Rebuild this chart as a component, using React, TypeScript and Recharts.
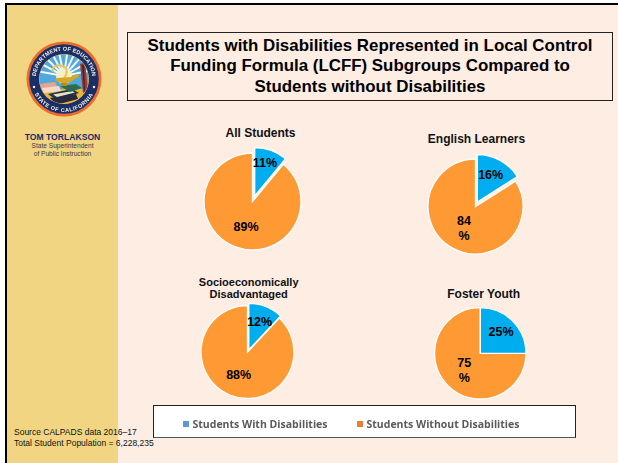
import { PieChart, Pie, Cell } from "recharts";

const subgroups = ["All Students", "English Learners", "Socioeconomically Disadvantaged", "Foster Youth"];
const withDisabilities = [11, 16, 12, 25];
const withoutDisabilities = [89, 84, 88, 75];
const legendLabels = ["Students With Disabilities", "Students Without Disabilities"];

const BLUE = "#00AEEF";
const ORANGE = "#FF9933";
const ARIAL = "'Liberation Sans', Arial, sans-serif";

// where each pie sits on the slide, and how far its blue wedge is pulled out
const pieLayout = [
  { cx: 252.5, cy: 201.5, r: 48.5, dx: 2.2, dy: -5.5 },
  { cx: 475.5, cy: 206.5, r: 47.5, dx: 1.8, dy: -4.5 },
  { cx: 247.5, cy: 352, r: 46.5, dx: 1.3, dy: -2.2 },
  { cx: 480.3, cy: 353.3, r: 45.7, dx: 0, dy: 0 },
];

// label centres: [with disabilities, without disabilities]
const labelLayout = [
  [{ x: 265, y: 163 }, { x: 246, y: 227 }],
  [{ x: 490.7, y: 175 }, { x: 464, y: 228 }],
  [{ x: 259.7, y: 322 }, { x: 238.7, y: 375 }],
  [{ x: 501, y: 332 }, { x: 464.3, y: 370 }],
];
// these labels ran out of room and break before the percent sign
const wrappedLabels = ["1-1", "3-1"];

const titleLayout = [
  { x: 260.5, y: [137] },
  { x: 476.5, y: [142.7] },
  { x: 248.7, y: [286, 298] },
  { x: 483.7, y: [298] },
];
const titleLines = [["All Students"], ["English Learners"], ["Socioeconomically", "Disadvantaged"], ["Foster Youth"]];

function renderLabel(group: number, slice: number) {
  return (props: any) => {
    if (props.index !== slice) return null;
    const pos = labelLayout[group][slice];
    const value = slice === 0 ? withDisabilities[group] : withoutDisabilities[group];
    const common = {
      fontFamily: ARIAL,
      fontWeight: 700,
      fontSize: 12.5,
      fill: "#000",
      textAnchor: "middle" as const,
      dominantBaseline: "central" as const,
    };
    if (wrappedLabels.includes(`${group}-${slice}`)) {
      return (
        <text {...common}>
          <tspan x={pos.x} y={pos.y - 7.5}>{value}</tspan>
          <tspan x={pos.x} y={pos.y + 7.5}>%</tspan>
        </text>
      );
    }
    return <text {...common} x={pos.x} y={pos.y}>{value}%</text>;
  };
}

function buildPies() {
  return subgroups.flatMap((name, group) => {
    const data = [
      { name: legendLabels[0], value: withDisabilities[group] },
      { name: legendLabels[1], value: withoutDisabilities[group] },
    ];
    const { cx, cy, r, dx, dy } = pieLayout[group];
    // same slices twice: the orange one in place, the blue one shifted out
    return [1, 0].map((slice) => (
      <Pie
        key={`${name}-${slice}`}
        data={data}
        dataKey="value"
        cx={slice === 0 ? cx + dx : cx}
        cy={slice === 0 ? cy + dy : cy}
        outerRadius={r}
        startAngle={90}
        endAngle={-270}
        labelLine={false}
        label={renderLabel(group, slice)}
        isAnimationActive={false}
      >
        {data.map((_, i) => (
          <Cell
            key={i}
            fill={i !== slice ? "none" : slice === 0 ? BLUE : ORANGE}
            stroke={i !== slice ? "none" : "#fff"}
            strokeWidth={1.3}
          />
        ))}
      </Pie>
    ));
  });
}

function Seal() {
  const rays = [-80, -62, -45, -28, -12, 8, 25, 42, 60, 78];
  return (
    <svg width={80} height={80} viewBox="-40 -40 80 80" style={{ position: "absolute", left: 23.5, top: 39, filter: "blur(0.35px)" }}>
      <defs>
        <clipPath id="sealInner"><circle r={24.5} /></clipPath>
        <path id="sealTop" d="M -27.7 5 A 28.2 28.2 0 1 1 27.7 5" />
        <path id="sealBottom" d="M -33 0 A 33 33 0 0 0 33 0" />
      </defs>
      <circle r={37.5} fill="#EC6B2C" />
      <circle r={34.8} fill="#1B2F66" />
      <circle r={25} fill="#F2C14A" />
      <g clipPath="url(#sealInner)">
        <rect x={-26} y={-26} width={52} height={36} fill="#4FA9DC" />
        {rays.map((a) => (
          <line key={a} x1={0} y1={-3} x2={30 * Math.sin((a * Math.PI) / 180)} y2={-3 - 30 * Math.cos((a * Math.PI) / 180)} stroke="#F4FAFC" strokeWidth={2} />
        ))}
        <circle cy={-3} r={8} fill="#F6F1C8" />
        <rect x={-26} y={10} width={52} height={16} fill="#E8B63A" />
        <path d="M -25 5 L -9 3 L -5 11 L -22 13 Z" fill="#E7A58F" />
        <path d="M -22 9 L -5 7 L -3 12 L -21 14 Z" fill="#F3D9C7" />
        <path d="M -16 15 L 8 10 L 15 14 L -8 21 Z" fill="#1C3450" />
        <path d="M -14 19 L 12 15 L 14 20 L -8 26 Z" fill="#2A2A3E" />
        <path d="M -11 15.5 L 8 12 L 11 13.5 L -7 18 Z" fill="#E9E2C4" />
        <path d="M -4 7 L 12 5 L 18 9 L 6 13 Z" fill="#2F6B4F" />
        <path d="M 16 -15 L 21 -17 L 24 12 L 19 14 Z" fill="#A5372F" />
        <path d="M 18 -14 L 20 -15 L 21 12 L 20 12 Z" fill="#3B2A3A" />
        <path d="M -10 -7 C -15 -11 -7 -15 -2 -13 C 6 -11 2 -3 -1 1" stroke="#EBC75B" strokeWidth={2} fill="none" />
        <path d="M -9 1 C -4 5 4 5 8 2 C 12 -2 14 0 15 -3 C 14 -6 9 -4 7 -2 L -7 -1 Z" fill="#D8A626" />
        <rect x={-3} y={4} width={6} height={3} fill="#B98A1D" />
      </g>
      <text fontFamily={ARIAL} fontWeight={700} fontSize={5.5} fill="#F6F3E6" letterSpacing={0.1}>
        <textPath href="#sealTop" startOffset="50%" textAnchor="middle">DEPARTMENT OF EDUCATION</textPath>
      </text>
      <text fontFamily={ARIAL} fontWeight={700} fontSize={5.5} fill="#F6F3E6" letterSpacing={0.55}>
        <textPath href="#sealBottom" startOffset="50%" textAnchor="middle">STATE OF CALIFORNIA</textPath>
      </text>
      <circle cx={-30} cy={8} r={1.2} fill="#F6F3E6" />
      <circle cx={30} cy={8} r={1.2} fill="#F6F3E6" />
    </svg>
  );
}

const abs = (left: number, top: number, extra: React.CSSProperties = {}): React.CSSProperties => ({
  position: "absolute",
  left,
  top,
  ...extra,
});

const legendText: React.CSSProperties = {
  color: "#5A5A5A",
  fontFamily: "'Open Sans', sans-serif",
  fontWeight: 700,
  fontSize: 10.5,
  lineHeight: "14px",
  whiteSpace: "nowrap",
  filter: "blur(0.4px)",
};

export default function App() {
  return (
    <div style={{ position: "fixed", left: 0, top: 0, width: 618, height: 463, background: "#fff", overflow: "hidden", fontFamily: ARIAL }}>
      <div style={abs(5, 3, { width: 613, height: 460, background: "#000" })} />
      <div style={abs(7, 5, { width: 611, height: 458, background: "#FDEDE3" })} />
      <div style={abs(7, 5, { width: 111, height: 458, background: "#F1D582" })} />

      <Seal />
      <div style={abs(7, 132, { width: 111, textAlign: "center", color: "#1C2A66", fontWeight: 700, fontSize: 8.6, lineHeight: "10px" })}>
        TOM TORLAKSON
      </div>
      <div style={abs(7, 142, { width: 111, textAlign: "center", color: "#3A3A4A", fontSize: 6.6, lineHeight: "8px" })}>
        State Superintendent
        <br />
        of Public Instruction
      </div>

      <div
        style={abs(127, 32, {
          width: 484,
          height: 64,
          border: "1px solid #222",
          textAlign: "center",
          fontWeight: 700,
          fontSize: 16.9,
          lineHeight: "20.3px",
          paddingTop: 3,
          color: "#000",
        })}
      >
        Students with Disabilities Represented in Local Control
        <br />
        Funding Formula (LCFF) Subgroups Compared to
        <br />
        Students without Disabilities
      </div>

      <div style={abs(153, 405, { width: 421, height: 31, background: "#fff", border: "1px solid #222", borderBottomColor: "#555" })} />
      <div style={abs(183, 421, { width: 6, height: 6, background: "#5B9BD5" })} />
      <div style={abs(357, 421, { width: 6, height: 6, background: "#ED7D31" })} />
      <div style={abs(192.5, 417, legendText)}>{legendLabels[0]}</div>
      <div style={abs(366.5, 417, legendText)}>{legendLabels[1]}</div>

      <div style={abs(14, 427, { color: "#111", fontSize: 8.5, lineHeight: "10.5px", whiteSpace: "nowrap" })}>
        Source CALPADS data 2016–17
        <br />
        Total Student Population = 6,228,235
      </div>

      <div style={abs(0, 0)}>
        <PieChart width={618} height={463} margin={{ top: 0, right: 0, bottom: 0, left: 0 }}>
          {buildPies()}
          {titleLines.map((lines, i) =>
            lines.map((line, j) => (
              <text
                key={line}
                x={titleLayout[i].x}
                y={titleLayout[i].y[j]}
                textAnchor="middle"
                fontFamily={ARIAL}
                fontWeight={700}
                fontSize={lines.length > 1 ? 11 : 12}
                fill="#111"
              >
                {line}
              </text>
            )),
          )}
        </PieChart>
      </div>
    </div>
  );
}
